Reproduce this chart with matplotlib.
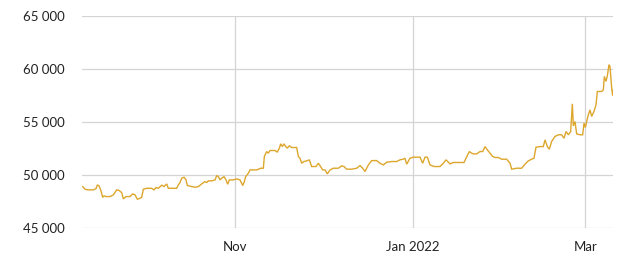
import pandas as pd
import matplotlib.pyplot as plt
import matplotlib.dates as mdates
from matplotlib.ticker import FuncFormatter

# ================= data =================
BASE_DATE = '2021-11-01'

# days relative to 1 Nov 2021
day_offsets = [
    -52.04, -51.24, -50.10, -48.39, -47.47, -47.02, -46.45, -45.88, -45.19, -44.74,
    -44.05, -42.68, -41.54, -40.40, -39.49, -38.69, -38.12, -37.20, -35.84, -34.92,
    -34.12, -33.32, -32.64, -31.84, -31.27, -30.13, -28.42, -27.62, -26.94, -26.14,
    -25.00, -24.20, -23.29, -22.72, -21.00, -19.86, -19.29, -18.72, -18.15, -17.35,
    -16.67, -16.21, -14.73, -13.59, -12.45, -11.31, -10.17, -9.60, -9.03, -7.89,
    -6.74, -6.17, -5.60, -5.03, -4.46, -3.66, -2.98, -2.41, -1.84, -0.47,
    0.67, 1.81, 2.73, 3.30, 3.75, 4.67, 5.24, 7.52, 8.89, 9.80,
    10.14, 10.94, 11.51, 12.08, 13.79, 14.59, 15.28, 15.73, 16.30, 16.87,
    17.44, 18.01, 18.70, 19.50, 21.21, 21.78, 22.35, 22.92, 23.72, 24.63,
    25.54, 26.34, 27.82, 28.62, 29.19, 30.10, 30.90, 31.70, 32.62, 33.76,
    35.47, 36.61, 37.41, 38.32, 40.04, 41.75, 42.89, 43.80, 44.60, 45.74,
    46.88, 48.59, 49.73, 50.88, 52.02, 53.73, 55.44, 56.58, 57.72, 58.29,
    58.86, 60.00, 61.14, 62.28, 63.42, 64.34, 65.14, 65.93, 66.85, 68.22,
    70.27, 71.41, 72.33, 73.12, 73.69, 74.83, 76.55, 78.49, 79.17, 80.31,
    81.11, 81.68, 82.82, 83.96, 84.88, 85.67, 86.47, 87.39, 88.30, 89.10,
    90.24, 91.38, 93.09, 94.23, 94.80, 96.51, 98.22, 99.36, 100.50, 101.64,
    102.44, 103.13, 104.50, 105.64, 106.21, 107.01, 107.69, 108.49, 109.63, 110.77,
    111.91, 112.71, 113.40, 114.20, 115.00, 115.57, 115.91, 116.48, 117.05, 118.19,
    119.10, 119.56, 120.02, 120.47, 121.04, 121.61, 122.18, 122.98, 123.67, 124.12,
    125.61, 126.18, 126.52, 127.09, 127.55, 128.12, 128.46, 129.03, 129.38, 129.60,
]

prices = [
    48930, 48680, 48620, 48620, 48740, 49090, 48990, 48620, 47920, 48050,
    47990, 47990, 48150, 48620, 48550, 48360, 47770, 47990, 47990, 48240,
    48150, 47740, 47800, 47920, 48680, 48770, 48770, 48620, 48840, 48770,
    49060, 48930, 49180, 48770, 48770, 48770, 49090, 49310, 49720, 49810,
    49560, 49030, 48930, 48870, 48930, 49180, 49400, 49310, 49470, 49470,
    49560, 49970, 49870, 49560, 49720, 49870, 49560, 49150, 49560, 49560,
    49650, 49560, 49030, 49400, 49870, 50190, 50500, 50500, 50660, 50660,
    51760, 52230, 52080, 52330, 52330, 52170, 52550, 52960, 52700, 52960,
    52700, 52550, 52770, 52610, 52610, 51760, 51600, 51130, 51290, 51350,
    51450, 50820, 50820, 51130, 50910, 50500, 50500, 50130, 50500, 50660,
    50660, 50880, 50820, 50570, 50570, 50660, 50910, 50660, 50350, 50970,
    51380, 51380, 51130, 50970, 51230, 51290, 51290, 51450, 51510, 51600,
    51040, 51600, 51700, 51700, 51700, 51130, 51700, 51700, 50970, 50820,
    50820, 51130, 51450, 51230, 51070, 51200, 51200, 51200, 51600, 52230,
    52080, 52010, 52010, 52230, 52230, 52700, 52390, 52080, 51760, 51670,
    51670, 51510, 51510, 51130, 50570, 50660, 50660, 51040, 51350, 51510,
    51600, 52640, 52700, 52700, 53330, 52700, 52450, 53180, 53650, 53810,
    53810, 53490, 54120, 53810, 54120, 56730, 54650, 55060, 53900, 53810,
    53810, 54910, 54500, 55060, 55690, 56160, 55540, 56010, 56640, 57890,
    57890, 58050, 59310, 58840, 59370, 60410, 60250, 58210, 57490, 58050,
]

y_ticks = [45000, 50000, 55000, 60000, 65000]
x_tick_dates = ['2021-11-01', '2022-01-01', '2022-03-01']
x_tick_labels = ['Nov', 'Jan 2022', 'Mar']

LINE_COLOR = '#dda62c'
GRID_COLOR = '#d4d4d4'
TEXT_COLOR = '#222222'

plt.rcParams['font.family'] = ['Lato', 'DejaVu Sans']

dates = pd.Timestamp(BASE_DATE) + pd.to_timedelta(day_offsets, unit='D')

fig = plt.figure(figsize=(6.31, 2.65), dpi=100)
ax = fig.add_axes([0.1295, 0.1385, 0.8425, 0.8011])

ax.plot(dates, prices, color=LINE_COLOR, linewidth=1.0, solid_joinstyle='miter')

ax.set_xlim(dates[0] - pd.Timedelta(hours=8), dates[-1])
ax.set_ylim(45000, 65000)
ax.set_yticks(y_ticks)
ax.yaxis.set_major_formatter(FuncFormatter(lambda v, p: f'{int(v):,}'.replace(',', ' ')))
ax.set_xticks(pd.to_datetime(x_tick_dates))
ax.set_xticklabels(x_tick_labels)

ax.grid(True, color=GRID_COLOR, linewidth=0.9)
ax.set_axisbelow(True)
for s in ax.spines.values():
    s.set_visible(False)
ax.tick_params(axis='both', length=0, labelsize=9.5, colors=TEXT_COLOR)
ax.tick_params(axis='y', pad=12)
ax.tick_params(axis='x', pad=9)

fig.savefig('out.png', dpi=100)
